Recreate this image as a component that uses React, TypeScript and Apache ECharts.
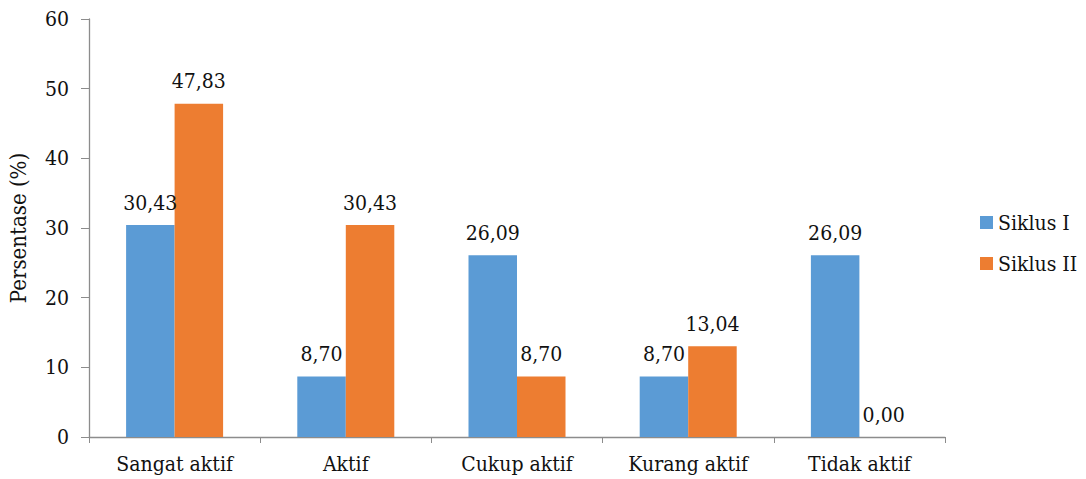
import React, { useEffect, useRef } from "react";
import * as echarts from "echarts";

const categories = ["Sangat aktif", "Aktif", "Cukup aktif", "Kurang aktif", "Tidak aktif"];
const siklusI = [30.43, 8.7, 26.09, 8.7, 26.09];
const siklusII = [47.83, 30.43, 8.7, 13.04, 0.0];
const seriesNames = ["Siklus I", "Siklus II"];
const colors = ["#5B9BD5", "#ED7D31"];

const FONT = "DejaVu Serif Condensed";
const fmt = (v: number) => v.toFixed(2).replace(".", ",");

export default function App() {
  const ref = useRef<HTMLDivElement>(null);

  useEffect(() => {
    if (!ref.current) return;
    const chart = echarts.init(ref.current, undefined, { renderer: "svg" });
    const label = {
      show: true,
      position: "top" as const,
      distance: 12,
      fontFamily: FONT,
      fontSize: 21,
      color: "#111",
      formatter: (p: any) => fmt(p.value),
    };
    chart.setOption({
      animation: false,
      backgroundColor: "#fff",
      textStyle: { fontFamily: FONT },
      grid: {
        left: 89,
        right: 141,
        top: 19,
        bottom: 42,
        containLabel: false,
        outerBoundsMode: "none",
      },
      legend: {
        orient: "vertical",
        left: 975,
        top: 207,
        itemWidth: 13,
        itemHeight: 13,
        itemGap: 20,
        icon: "rect",
        textStyle: { fontFamily: FONT, fontSize: 21, color: "#111" },
        data: seriesNames,
      },
      xAxis: {
        type: "category",
        data: categories,
        axisLine: { lineStyle: { color: "#8c8c8c", width: 1.3 } },
        axisTick: { show: true, length: 6, alignWithLabel: false, lineStyle: { color: "#8c8c8c" } },
        axisLabel: { fontFamily: FONT, fontSize: 21, color: "#111", margin: 16 },
      },
      yAxis: {
        type: "value",
        min: 0,
        max: 60,
        interval: 10,
        name: "Persentase (%)",
        nameLocation: "middle",
        nameRotate: 90,
        nameGap: 60,
        nameTextStyle: { fontFamily: FONT, fontSize: 22, color: "#111" },
        splitLine: { show: false },
        axisLine: { show: true, lineStyle: { color: "#8c8c8c", width: 1.3 } },
        axisTick: { show: true, length: 8, lineStyle: { color: "#8c8c8c" } },
        axisLabel: { fontFamily: FONT, fontSize: 21, color: "#111", margin: 20 },
      },
      series: [
        {
          name: seriesNames[0],
          type: "bar",
          data: siklusI,
          barWidth: 48.5,
          barGap: "0%",
          itemStyle: { color: colors[0] },
          label,
        },
        {
          name: seriesNames[1],
          type: "bar",
          data: siklusII,
          barWidth: 48.5,
          barGap: "0%",
          itemStyle: { color: colors[1] },
          label,
        },
      ],
    });
    return () => chart.dispose();
  }, []);

  return (
    <div
      ref={ref}
      style={{ position: "absolute", left: 0, top: 0, width: 1086, height: 479 }}
    />
  );
}
